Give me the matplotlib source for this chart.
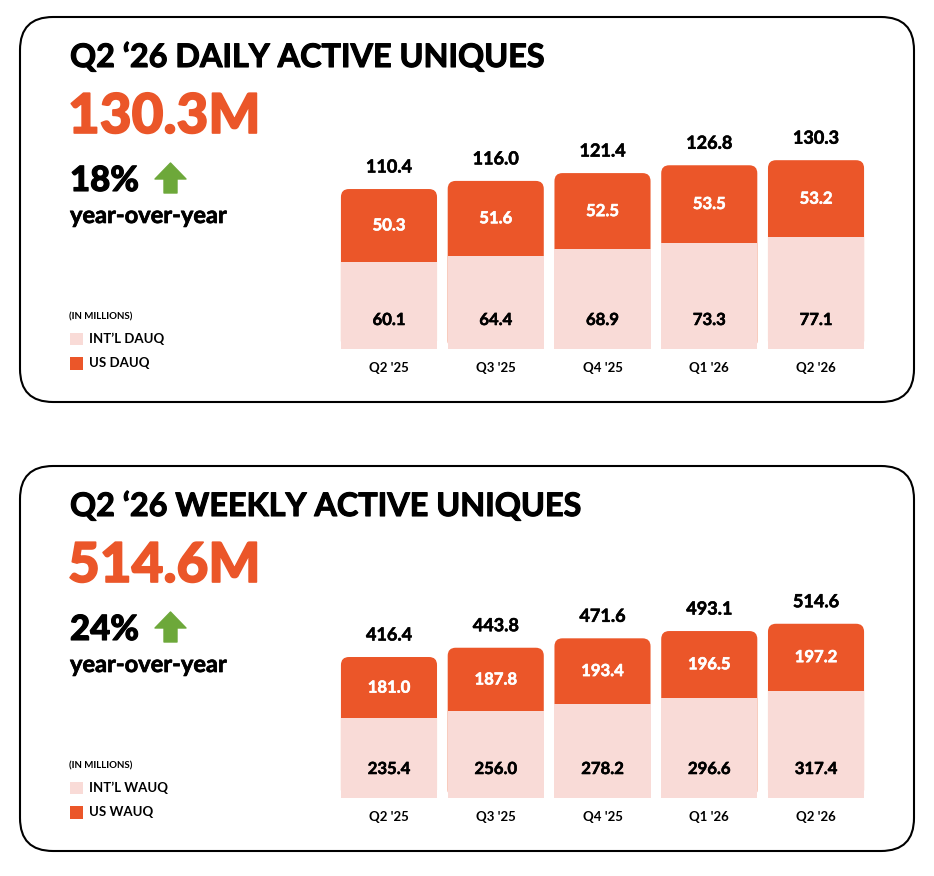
import numpy as np
import matplotlib
matplotlib.use("Agg")
import matplotlib.pyplot as plt
import matplotlib.patheffects as pe
from matplotlib.patches import FancyBboxPatch, Polygon, Rectangle

plt.rcParams["font.family"] = ["Lato", "DejaVu Sans"]

# data
quarters = ["Q2 '25", "Q3 '25", "Q4 '25", "Q1 '26", "Q2 '26"]
dau_intl = [60.1, 64.4, 68.9, 73.3, 77.1]
dau_us = [50.3, 51.6, 52.5, 53.5, 53.2]
dau_total = [110.4, 116.0, 121.4, 126.8, 130.3]
wau_intl = [235.4, 256.0, 278.2, 296.6, 317.4]
wau_us = [181.0, 187.8, 193.4, 196.5, 197.2]
wau_total = [416.4, 443.8, 471.6, 493.1, 514.6]

ORANGE = "#EB5629"
PINK = "#F9DBD7"
GREEN = "#6DA83A"

W, H = 934, 876
fig = plt.figure(figsize=(W / 100, H / 100), dpi=100)

# background axes in pixel coordinates
bg = fig.add_axes([0, 0, 1, 1])
bg.set_xlim(0, W)
bg.set_ylim(H, 0)
bg.axis("off")


def heavy(c, lw=0.8):
    return [pe.withStroke(linewidth=lw, foreground=c)]


def panel(y0, title, big, pct, tags, intl, us, total, ymax, base_px):
    box = FancyBboxPatch((20, y0), 894, 385, boxstyle="round,pad=0,rounding_size=33",
                         fc="white", ec="black", lw=1.5)
    bg.add_patch(box)
    bg.text(70, y0 + 50, title, fontsize=23.3, fontweight="bold", va="baseline",
            path_effects=heavy("black"))
    bg.text(68, y0 + 116, big, fontsize=39.5, fontweight="black", color=ORANGE, va="baseline",
            path_effects=heavy(ORANGE, 1.2))
    bg.text(70, y0 + 174, pct, fontsize=25, fontweight="black", va="baseline",
            path_effects=heavy("black"))
    # up arrow
    ax0, ay0 = 155, y0 + 146
    arrow = Polygon([(ax0 + 15.5, ay0), (ax0 + 31, ay0 + 16), (ax0 + 22, ay0 + 16),
                     (ax0 + 22, ay0 + 30), (ax0 + 9, ay0 + 30), (ax0 + 9, ay0 + 16),
                     (ax0, ay0 + 16)], closed=True, fc=GREEN, ec=GREEN, lw=1, joinstyle="round")
    bg.add_patch(arrow)
    bg.text(70, y0 + 206, "year-over-year", fontsize=17, fontweight="bold", va="baseline",
            path_effects=heavy("black", 0.5))
    bg.text(69, y0 + 300, "(IN MILLIONS)", fontsize=7, fontweight="bold", va="center")
    bg.add_patch(Rectangle((70, y0 + 316), 13, 12, fc=PINK, ec="none"))
    bg.text(89, y0 + 322, tags[0], fontsize=9.5, fontweight="bold", va="center")
    bg.add_patch(Rectangle((70, y0 + 340), 13, 13, fc=ORANGE, ec="none"))
    bg.text(89, y0 + 346, tags[1], fontsize=9.5, fontweight="bold", va="center")

    # bar axes
    left, right = 335.6, 869.4
    height_px = 200
    ax = fig.add_axes([left / W, (H - base_px) / H, (right - left) / W, height_px / H])
    ax.set_xlim(-0.5, 4.5)
    ax.set_ylim(0, ymax)
    ax.axis("off")
    x = np.arange(len(quarters))
    width = 0.9

    # full-height orange bars with rounded tops, pink intl bars on top
    bars = ax.bar(x, total, width, color=ORANGE)
    xpp = 5 / (right - left)
    ypp = ymax / height_px
    r = 8 * xpp
    for b in bars:
        bx, by = b.get_x(), b.get_y()
        bw, bh = b.get_width(), b.get_height()
        b.remove()
        ax.add_patch(FancyBboxPatch((bx, by), bw, bh,
                                    boxstyle=f"round,pad=0,rounding_size={r}",
                                    mutation_aspect=ypp / xpp, fc=ORANGE, ec="none"))
    ax.bar(x, intl, width, color=PINK)

    for i in x:
        ax.annotate(f"{total[i]:.1f}", (i, total[i]), xytext=(0, 22), textcoords="offset pixels",
                    ha="center", va="center", fontsize=13, fontweight="bold",
                    path_effects=heavy("black", 0.4))
        ax.annotate(f"{us[i]:.1f}", (i, intl[i] + us[i] / 2), ha="center", va="center",
                    fontsize=12, fontweight="bold", color="white",
                    path_effects=heavy("white", 0.4))
        ax.annotate(f"{intl[i]:.1f}", (i, 0), xytext=(0, 29), textcoords="offset pixels",
                    ha="center", va="center", fontsize=12, fontweight="bold",
                    path_effects=heavy("black", 0.4))
        ax.annotate(quarters[i], (i, 0), xytext=(0, -19), textcoords="offset pixels",
                    ha="center", va="center", fontsize=9.5, fontweight="bold")


panel(17, "Q2 \u201826 DAILY ACTIVE UNIQUES", "130.3M", "18%",
      ["INT\u2019L DAUQ", "US DAUQ"], dau_intl, dau_us, dau_total, 200 / 1.449, 349)
panel(466, "Q2 \u201826 WEEKLY ACTIVE UNIQUES", "514.6M", "24%",
      ["INT\u2019L WAUQ", "US WAUQ"], wau_intl, wau_us, wau_total, 200 / 0.3386, 798)

fig.savefig("out.png", dpi=100)
